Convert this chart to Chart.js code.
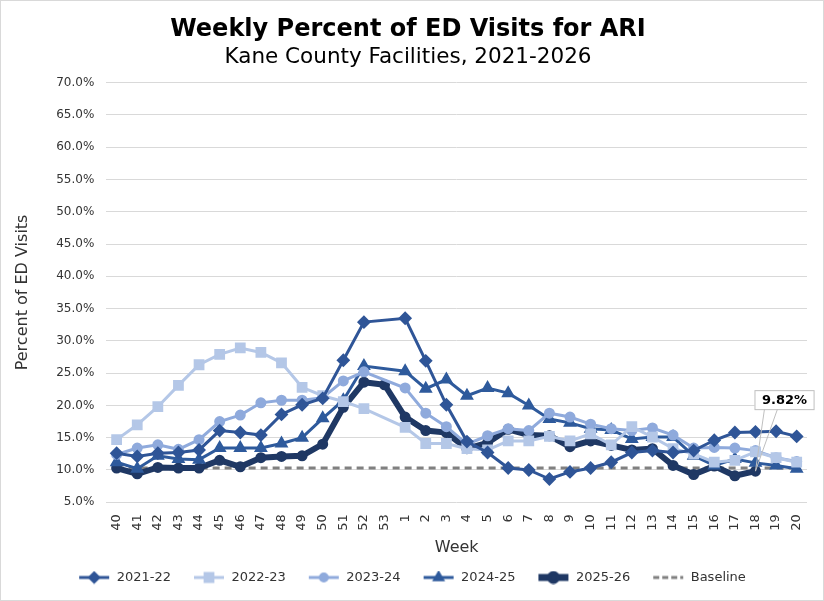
<!DOCTYPE html>
<html>
<head>
<meta charset="utf-8">
<title>Weekly Percent of ED Visits for ARI</title>
<script src="https://cdn.jsdelivr.net/npm/chart.js@4.4.1/dist/chart.umd.min.js"></script>
<style>
  html, body { margin: 0; padding: 0; background: #fff; }
  #wrap { width: 822px; height: 599px; border: 1px solid #d9d9d9; position: relative; }
</style>
</head>
<body>
<div id="wrap"><canvas id="myChart"></canvas></div>
<script>
// weeks (MMWR), season runs week 40 -> week 20
const weeks = ['40','41','42','43','44','45','46','47','48','49','50','51','52','53',
  '1','2','3','4','5','6','7','8','9','10','11','12','13','14','15','16','17','18','19','20'];

// percent of ED visits (null = no week 53 / not reported yet)
const s2122 = [12.6, 12.1, 12.6, 12.7, 13.1, 16.1, 15.8, 15.4, 18.6, 20.1, 21.1, 27.0, 32.9, null,
  33.5, 26.9, 20.1, 14.4, 12.7, 10.3, 10.0, 8.6, 9.7, 10.3, 11.2, 12.7, 13.0, 12.7, 13.0, 14.6, 15.8, 15.9, 16.0, 15.2];
const s2223 = [14.7, 17.0, 19.8, 23.1, 26.3, 27.9, 28.9, 28.2, 26.6, 22.8, 21.5, 20.6, 19.5, null,
  16.6, 14.1, 14.1, 13.3, 13.1, 14.5, 14.5, 15.2, 14.5, 15.6, 13.9, 16.7, 15.1, 13.3, 12.5, 11.2, 11.5, 12.8, 11.9, 11.2];
const s2324 = [12.4, 13.4, 13.9, 13.2, 14.7, 17.5, 18.5, 20.4, 20.8, 20.8, 21.2, 23.8, 25.2, null,
  22.7, 18.8, 16.7, 14.0, 15.3, 16.4, 16.1, 18.8, 18.2, 17.1, 16.4, 16.1, 16.5, 15.4, 13.4, 13.5, 13.4, 13.0, 11.9, 11.3];
const s2425 = [11.2, 10.2, 12.2, 11.7, 11.6, 13.4, 13.4, 13.4, 14.1, 15.0, 18.0, 20.8, 26.1, null,
  25.3, 22.6, 24.0, 21.5, 22.7, 21.9, 20.0, 17.9, 17.3, 16.4, 16.2, 14.8, 15.1, 15.1, 12.2, 10.7, 11.7, 11.1, 10.7, 10.2];
const s2526 = [10.3, 9.4, 10.4, 10.3, 10.3, 11.5, 10.5, 11.9, 12.1, 12.2, 14.0, 19.7, 23.6, 23.2,
  18.2, 16.1, 15.8, 13.3, 14.2, 16.3, 15.4, 15.3, 13.6, 14.5, 13.8, 13.1, 13.3, 10.7, 9.3, 10.6, 9.1, 9.82, null, null];
const baseline = weeks.map(() => 10.3);

const yTicks = [5, 10, 15, 20, 25, 30, 35, 40, 45, 50, 55, 60, 65, 70];

const FONT = "'DejaVu Sans', Verdana, sans-serif";
const TXT = '#333333';

// little canvas swatch: line + marker, used as legend point style
// (8px of empty room on the left gives the gap between legend items)
function swatch(color, width, marker, r, dash) {
  const c = document.createElement('canvas');
  c.width = 40; c.height = 14;
  const g = c.getContext('2d');
  g.strokeStyle = color; g.fillStyle = color; g.lineWidth = width;
  if (dash) g.setLineDash(dash);
  g.beginPath(); g.moveTo(9, 7); g.lineTo(39, 7); g.stroke();
  g.setLineDash([]);
  if (marker) {
    Chart.helpers.drawPoint(g, {pointStyle: marker, radius: r, borderWidth: 1}, 24, 7);
    g.fill();
  }
  return c;
}

function series(label, data, color, marker, radius, width) {
  return {
    label: label, data: data,
    borderColor: color, backgroundColor: color,
    pointBackgroundColor: color, pointBorderColor: color,
    pointStyle: marker, pointRadius: radius, pointHoverRadius: radius,
    borderWidth: width, spanGaps: true, tension: 0
  };
}

const datasets = [
  series('2021-22', s2122, '#2f5597', 'rectRot', 4.8, 3),
  series('2022-23', s2223, '#b4c7e7', 'rect', 5.5, 3),
  series('2023-24', s2324, '#8faadc', 'circle', 4, 3),
  series('2024-25', s2425, '#2e5a9c', 'triangle', 5, 3),
  series('2025-26', s2526, '#1f3864', 'circle', 2.5, 6),
  {
    label: 'Baseline', data: baseline,
    borderColor: '#808080', borderWidth: 3, borderDash: [7, 5],
    pointRadius: 0, pointHoverRadius: 0
  }
];

const legendIcons = [
  swatch('#2f5597', 3, 'rectRot', 4.5),
  swatch('#b4c7e7', 3, 'rect', 5.5),
  swatch('#8faadc', 3, 'circle', 3.5),
  swatch('#2e5a9c', 3, 'triangle', 4.5),
  swatch('#1f3864', 7, 'circle', 3),
  swatch('#808080', 3, null, 0, [6, 3])
];

// callout with the latest value of the current season
const calloutPlugin = {
  id: 'callout',
  afterDatasetsDraw(chart) {
    const di = 4;
    const data = chart.data.datasets[di].data;
    let idx = data.length - 1;
    while (idx >= 0 && data[idx] == null) idx--;
    const pt = chart.getDatasetMeta(di).data[idx];
    if (!pt) return;
    const ctx = chart.ctx;
    const text = data[idx].toFixed(2) + '%';
    ctx.save();
    ctx.font = 'bold 13px ' + FONT;
    const w = ctx.measureText(text).width + 14;
    const h = 19;
    const bx = pt.x - 1, by = pt.y - 62 - h;
    ctx.strokeStyle = '#bfbfbf';
    ctx.lineWidth = 1;
    ctx.beginPath();
    ctx.moveTo(bx + 10, by + h);
    ctx.lineTo(pt.x, pt.y);
    ctx.lineTo(bx + 23, by + h);
    ctx.stroke();
    ctx.fillStyle = '#ffffff';
    ctx.fillRect(bx, by, w, h);
    ctx.strokeRect(bx + 0.5, by + 0.5, w, h);
    ctx.fillStyle = '#000000';
    ctx.textAlign = 'center';
    ctx.textBaseline = 'middle';
    ctx.fillText(text, bx + w / 2 + 0.5, by + h / 2 + 1);
    ctx.restore();
  }
};

const config = {
  type: 'line',
  data: { labels: weeks, datasets: datasets },
  options: {
    responsive: true,
    maintainAspectRatio: false,
    animation: false,
    layout: { padding: { left: 8, right: 16, top: 4, bottom: 6 } },
    plugins: {
      title: {
        display: true,
        text: 'Weekly Percent of ED Visits for ARI',
        color: '#000',
        font: { family: FONT, size: 24, weight: 'bold' },
        padding: { top: 10, bottom: 1 }
      },
      subtitle: {
        display: true,
        text: 'Kane County Facilities, 2021-2026',
        color: '#000',
        font: { family: FONT, size: 21.5 },
        padding: { bottom: 12 }
      },
      legend: {
        position: 'bottom',
        labels: {
          usePointStyle: true,
          pointStyleWidth: 40,
          padding: 14,
          color: TXT,
          font: { family: FONT, size: 13 },
          generateLabels(chart) {
            return chart.data.datasets.map((ds, i) => ({
              text: ds.label,
              fillStyle: ds.borderColor,
              strokeStyle: ds.borderColor,
              pointStyle: legendIcons[i],
              fontColor: TXT,
              datasetIndex: i,
              hidden: false
            }));
          }
        }
      },
      tooltip: { enabled: false }
    },
    scales: {
      x: {
        offset: true,
        grid: { display: false },
        border: { display: false },
        ticks: {
          autoSkip: false, maxRotation: 90, minRotation: 90,
          color: TXT, font: { family: FONT, size: 13 }, padding: 4
        },
        title: {
          display: true, text: 'Week', color: TXT,
          font: { family: FONT, size: 16 }, padding: { top: 3, bottom: 0 }
        }
      },
      y: {
        min: 5, max: 70,
        afterBuildTicks(axis) { axis.ticks = yTicks.map(v => ({ value: v })); },
        grid: { color: '#d9d9d9', lineWidth: 1, drawTicks: false },
        border: { display: false },
        ticks: {
          color: TXT, font: { family: FONT, size: 12 }, padding: 12,
          callback: v => v.toFixed(1) + '%'
        },
        title: {
          display: true, text: 'Percent of ED Visits', color: TXT,
          font: { family: FONT, size: 16 }, padding: { bottom: 12 }
        }
      }
    }
  },
  plugins: [calloutPlugin]
};

const myChart = new Chart(document.getElementById('myChart'), config);
</script>
</body>
</html>
